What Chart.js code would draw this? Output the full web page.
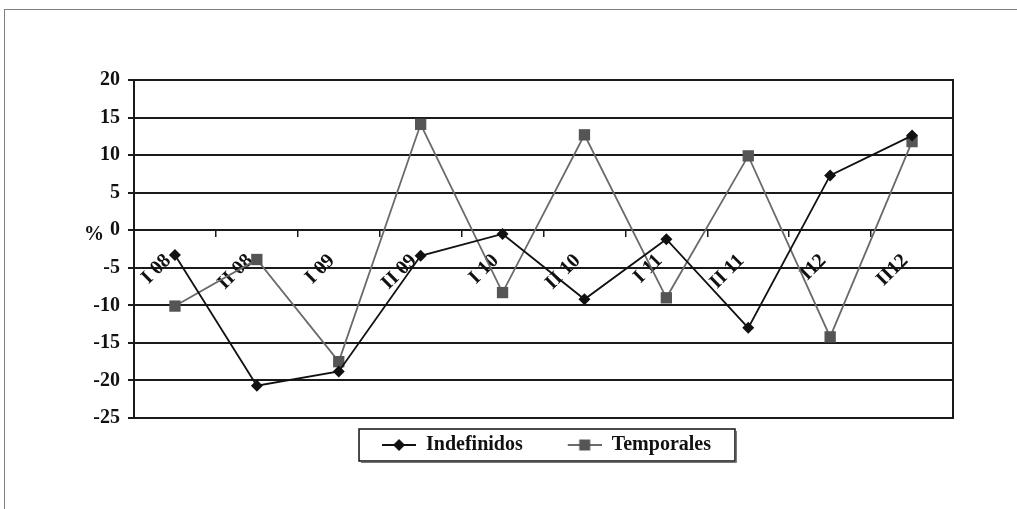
<!DOCTYPE html>
<html><head><meta charset="utf-8">
<script src="https://cdn.jsdelivr.net/npm/chart.js@4.4.1/dist/chart.umd.min.js"></script>
<style>
html,body{margin:0;padding:0;background:#fff;}
#wrap{position:relative;width:1017px;height:509px;overflow:hidden;background:#fff;}
#frame{position:absolute;left:4px;top:9px;width:1100px;height:600px;border:1px solid #808080;}
canvas{position:absolute;left:0;top:0;}
</style></head><body>
<div id="wrap"><div id="frame"></div><canvas id="c" width="1017" height="509"></canvas></div>
<script>
const categories = ['I 08','II 08','I 09','II 09','I 10','II 10','I 11','II 11','I12','II12'];
const indefinidos = [-3.3, -20.7, -18.8, -3.4, -0.5, -9.2, -1.2, -13.0, 7.3, 12.6];
const temporales = [-10.1, -3.9, -17.5, 14.1, -8.3, 12.7, -9.0, 9.9, -14.2, 11.8];
const yTickValues = [-25, -20, -15, -10, -5, 0, 5, 10, 15, 20];
const seriesNames = ['Indefinidos', 'Temporales'];

const FONT = '"Liberation Serif", "Times New Roman", serif';
const colIndef = '#111111';
const colTemp = '#555555';
const colTempLine = '#6a6a6a';

const ICON_W = 62, ICON_PAD = 28;
function makeIcon(kind, lineColor, markColor){
  const c = document.createElement('canvas');
  c.width = ICON_W; c.height = 16;
  const x = c.getContext('2d');
  const x0 = ICON_PAD, cx = ICON_PAD + 17;
  x.strokeStyle = lineColor; x.lineWidth = 2;
  x.beginPath(); x.moveTo(x0, 8); x.lineTo(x0 + 34, 8); x.stroke();
  x.fillStyle = markColor;
  x.beginPath();
  if (kind === 'diamond') {
    x.moveTo(cx, 2); x.lineTo(cx + 6, 8); x.lineTo(cx, 14); x.lineTo(cx - 6, 8); x.closePath();
  } else {
    x.rect(cx - 5.5, 2.5, 11, 11);
  }
  x.fill();
  return c;
}
const legendIcons = [makeIcon('diamond', colIndef, colIndef), makeIcon('square', colTempLine, colTemp)];

const extras = {
  id: 'extras',
  afterDraw(chart){
    const ctx = chart.ctx, a = chart.chartArea, ys = chart.scales.y;
    ctx.save();
    ctx.strokeStyle = '#1a1a1a'; ctx.lineWidth = 2;
    ctx.beginPath(); ctx.moveTo(a.right, a.top - 1); ctx.lineTo(a.right, a.bottom + 1); ctx.stroke();
    ctx.fillStyle = '#111'; ctx.font = 'bold 20px ' + FONT;
    ctx.textAlign = 'center'; ctx.textBaseline = 'middle';
    ctx.fillText('%', 94, ys.getPixelForValue(0) + 5);
    const hb = chart.legend.legendHitBoxes;
    if (hb && hb.length) {
      const last = hb[hb.length-1];
      const l = hb[0].left + ICON_PAD - 23, r = last.left + last.width + 24;
      const t = hb[0].top - 6, b = hb[0].top + hb[0].height + 6;
      ctx.strokeStyle = '#111'; ctx.lineWidth = 1.5;
      ctx.strokeRect(l, t, r - l, b - t);
      ctx.beginPath(); ctx.moveTo(l + 2, b + 1.5); ctx.lineTo(r + 1.5, b + 1.5); ctx.lineTo(r + 1.5, t + 2);
      ctx.strokeStyle = '#777'; ctx.lineWidth = 1; ctx.stroke();
    }
    ctx.restore();
  }
};

new Chart(document.getElementById('c'), {
  type: 'line',
  data: {
    labels: categories,
    datasets: [
      { label: seriesNames[0], data: indefinidos, borderColor: colIndef, backgroundColor: colIndef,
        borderWidth: 1.8, pointStyle: 'rectRot', pointRadius: 6, pointBorderWidth: 0, tension: 0 },
      { label: seriesNames[1], data: temporales, borderColor: colTempLine, backgroundColor: colTemp,
        pointBackgroundColor: colTemp, borderWidth: 1.8, pointStyle: 'rect', pointRadius: 8, pointBorderWidth: 0, tension: 0 }
    ]
  },
  options: {
    responsive: false,
    animation: false,
    events: [],
    layout: { padding: { left: 74, top: 80, right: 26, bottom: 44 } },
    plugins: {
      tooltip: { enabled: false },
      legend: {
        position: 'bottom', fullSize: true,
        labels: {
          usePointStyle: true, pointStyleWidth: ICON_W, padding: 17,
          color: '#111', font: { family: FONT, weight: 'bold', size: 20 },
          generateLabels(chart){
            return chart.data.datasets.map((ds, i) => ({
              text: ds.label, pointStyle: legendIcons[i], fillStyle: ds.borderColor,
              strokeStyle: ds.borderColor, lineWidth: 0, hidden: false, datasetIndex: i, fontColor: '#111'
            }));
          }
        }
      }
    },
    scales: {
      x: {
        type: 'category',
        position: { y: 0 },
        offset: true,
        grid: { offset: true, drawOnChartArea: false, drawTicks: true, tickLength: 6, color: '#1a1a1a', lineWidth: 1.5 },
        border: { display: true, color: '#1a1a1a', width: 2 },
        ticks: { autoSkip: false, maxRotation: 45, minRotation: 45, padding: 13, labelOffset: -7, color: '#111',
                 font: { family: FONT, weight: 'bold', size: 20 } }
      },
      y: {
        min: -25, max: 20,
        afterFit(s){ s.width = 60; },
        afterBuildTicks(s){ s.ticks = yTickValues.map(v => ({ value: v })); },
        grid: { color: '#1a1a1a', lineWidth: 2, tickLength: 6, drawTicks: true },
        border: { display: true, color: '#1a1a1a', width: 2 },
        ticks: { padding: 8, color: '#111', font: { family: FONT, weight: 'bold', size: 20 } }
      },
      spacer: {
        type: 'linear', position: 'right', display: true,
        afterFit(s){ s.width = 38; },
        grid: { display: false, drawTicks: false },
        border: { display: false },
        ticks: { display: false }
      }
    }
  },
  plugins: [extras]
});
</script>
</body></html>
